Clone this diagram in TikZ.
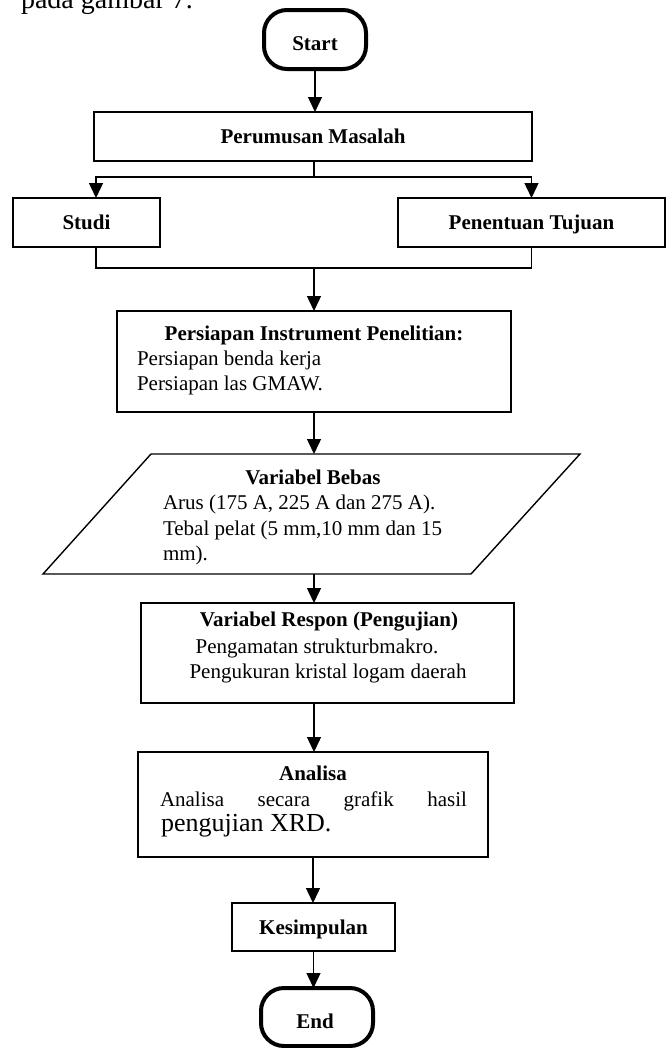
\documentclass[tikz,border=0pt]{standalone}
\usepackage{fontspec}
\setmainfont{Liberation Serif}
\usetikzlibrary{arrows.meta}
\begin{document}
\begin{tikzpicture}[x=1bp,y=-1bp,
  every node/.style={inner sep=0pt, outer sep=0pt},
  norm/.style={font=\fontsize{21bp}{25bp}\selectfont},
  bold/.style={font=\fontsize{21bp}{25bp}\selectfont\bfseries},
  lab/.style={bold, text height=14bp, text depth=0bp},
  box/.style={draw, line width=1.4bp},
  term/.style={draw, line width=4bp, rounded corners=23bp},
  ln/.style={line width=1.4bp},
  arr/.style={line width=1.4bp, -{Triangle[width=14bp,length=15bp]}}]
\useasboundingbox (0,0) rectangle (670,1048);

% page text cut off at the top, as in the reference
\node[anchor=base west, font=\fontsize{28bp}{32bp}\selectfont] (caption) at (21,8) {pada gambar 7.};

% terminals and boxes
\node[term, minimum width=102bp, minimum height=59bp] (start) at (315,39.5) {};
\node[lab] (startT) at (315,43) {Start};
\node[box, lab, minimum width=438bp, minimum height=49bp] (perumusan) at (313,136.5) {Perumusan Masalah};
\node[box, lab, minimum width=147bp, minimum height=49bp] (studi) at (86.5,222.5) {Studi};
\node[box, lab, minimum width=267bp, minimum height=49bp] (penentuan) at (531.5,222.5) {Penentuan Tujuan};

\node[box, minimum width=394bp, minimum height=101bp] (persiapan) at (314,361.5) {};
\node[bold, anchor=base] (persiapanT) at (314,340.5) {Persiapan Instrument Penelitian:};
\node[norm, anchor=base west] (persiapanA) at (137,365.5) {Persiapan benda kerja};
\node[norm, anchor=base west] (persiapanB) at (137,390.5) {Persiapan las GMAW.};

% parallelogram
\coordinate (bebasTL) at (151,454);
\coordinate (bebasTR) at (580,454);
\coordinate (bebasBR) at (471,574);
\coordinate (bebasBL) at (43,574);
\draw[ln] (bebasTL) -- (bebasTR) -- (bebasBR) -- (bebasBL) -- cycle;
\coordinate (bebasIn) at (314,454);
\coordinate (bebasOut) at (314,574);
\node[bold, anchor=base] (bebasT) at (313,484.5) {Variabel Bebas};
\node[norm, anchor=base west] (bebasA) at (163,509.5) {Arus (175 A, 225 A dan 275 A).};
\node[norm, anchor=base west] (bebasB) at (163,535.5) {Tebal pelat (5 mm,10 mm dan 15};
\node[norm, anchor=base west] (bebasC) at (163,560.5) {mm).};

\node[box, minimum width=373bp, minimum height=100bp] (respon) at (327.5,653) {};
\node[bold, anchor=base] (responT) at (329,626.5) {Variabel Respon (Pengujian)};
\node[norm, anchor=base] (responA) at (317,653.5) {Pengamatan strukturbmakro.};
\node[norm, anchor=base] (responB) at (328,678.5) {Pengukuran kristal logam daerah};

\node[box, minimum width=350bp, minimum height=105bp] (analisa) at (313,804.5) {};
\node[bold, anchor=base] (analisaT) at (313,780.5) {Analisa};
\node[norm, anchor=base west] (analisaA) at (160,806.5) {\hbox to 307bp{Analisa\hfill secara\hfill grafik\hfill hasil}};
\node[anchor=base west, font=\fontsize{26bp}{30bp}\selectfont] (analisaB) at (161,831) {pengujian XRD.};

\node[box, lab, minimum width=163bp, minimum height=48bp] (kesimpulan) at (313.5,927) {Kesimpulan};
\node[term, minimum width=112bp, minimum height=58bp] (end) at (317,1017) {};
\node[lab] (endT) at (315,1021) {End};

% connectors
\draw[arr] (start.south) -- (start.south |- perumusan.north);
\coordinate (split) at (314,177);
\coordinate (leftx) at (96,177);
\draw[ln] (split |- perumusan.south) -- (split);
\draw[arr] (split) -- (leftx) -- (leftx |- studi.north);
\draw[arr] (split) -| (penentuan.north);
\coordinate (join) at (314,268);
\draw[ln] (leftx |- studi.south) |- (join);
\draw[ln] (penentuan.south) |- (join);
\draw[arr] (join) -- (join |- persiapan.north);
\draw[arr] (persiapan.south) -- (bebasIn);
\draw[arr] (bebasOut) -- (bebasOut |- respon.north);
\draw[arr] (bebasOut |- respon.south) -- (bebasOut |- analisa.north);
\draw[arr] (analisa.south) -- (analisa.south |- kesimpulan.north);
\draw[arr] (kesimpulan.south) -- (kesimpulan.south |- end.north);
\end{tikzpicture}
\end{document}
